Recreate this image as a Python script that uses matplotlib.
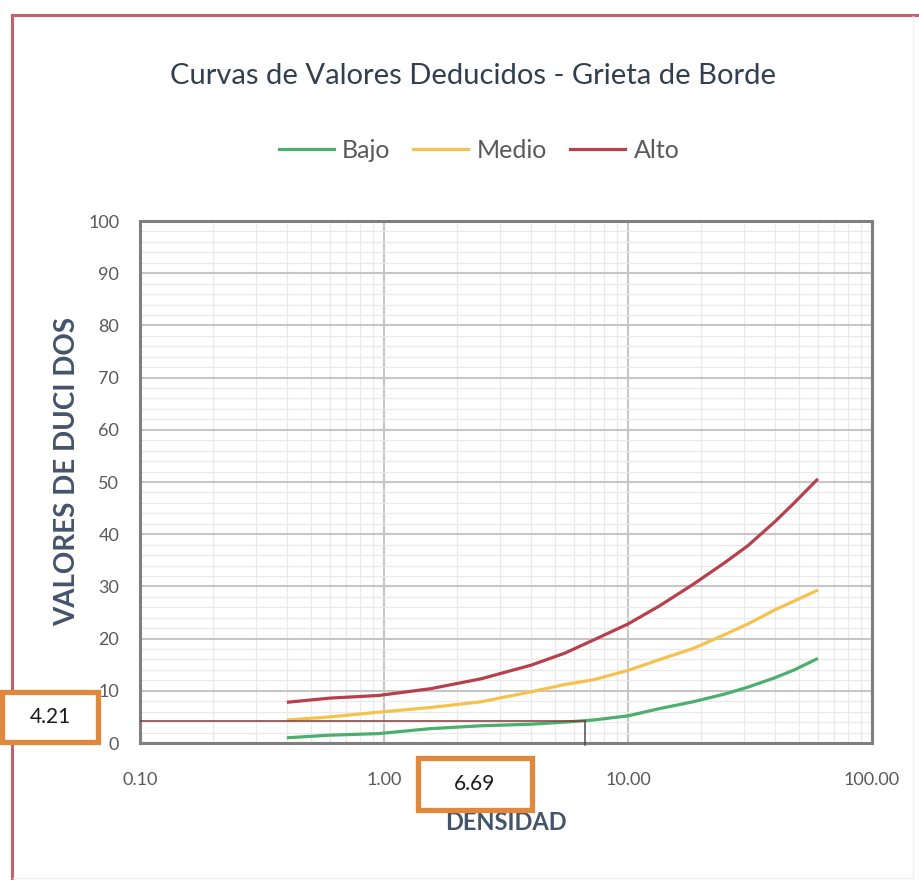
import matplotlib
matplotlib.use("Agg")
import matplotlib.pyplot as plt
from matplotlib.patches import Rectangle
from matplotlib.lines import Line2D
from matplotlib.ticker import FixedLocator, NullFormatter, MultipleLocator

plt.rcParams['font.family'] = ['Lato', 'DejaVu Sans']

# Curvas de valores deducidos (densidad en %, escala logaritmica)
densidad = [0.4, 0.6, 0.95, 1.55, 2.5, 4, 5.5, 7.2, 10, 13.5, 18.5, 25, 31, 40, 48, 60]
bajo = [1.0, 1.5, 1.8, 2.75, 3.3, 3.6, 4.0, 4.4, 5.2, 6.6, 7.9, 9.4, 10.7, 12.5, 14.0, 16.2]
medio = [4.4, 5.0, 5.9, 6.8, 7.9, 9.8, 11.2, 12.1, 13.9, 16.0, 18.1, 20.8, 22.8, 25.5, 27.2, 29.3]
alto = [7.8, 8.6, 9.1, 10.4, 12.3, 14.9, 17.2, 19.7, 22.8, 26.3, 30.4, 34.6, 37.8, 42.4, 46.0, 50.6]

series = ['Bajo', 'Medio', 'Alto']
colores = ['#4caf6e', '#f6c24e', '#b8404c']

# Lectura en la curva
densidad_leida = 6.69
valor_leido = 4.21

x_ticks = [0.1, 1, 10, 100]
x_labels = ['0.10', '1.00', '10.00', '100.00']
y_ticks = list(range(0, 101, 10))

W, H = 920, 880
fig = plt.figure(figsize=(W / 100, H / 100), dpi=100)
fig.patch.set_facecolor('white')


def fx(px):
    return px / W


def fy(py):
    return 1 - py / H


ax = fig.add_axes([fx(140), fy(743), fx(872) - fx(140), fy(221) - fy(743)])

for nombre, valores, color in zip(series, [bajo, medio, alto], colores):
    ax.plot(densidad, valores, color=color, lw=2.3, label=nombre,
            solid_capstyle='butt', solid_joinstyle='round', zorder=3)

ax.set_xscale('log')
ax.set_xlim(0.1, 100)
ax.set_ylim(0, 100)
ax.set_xticks(x_ticks)
ax.set_xticklabels(x_labels)
ax.xaxis.set_minor_locator(FixedLocator(
    [m * d for d in [0.1, 1, 10] for m in range(2, 10)]))
ax.xaxis.set_minor_formatter(NullFormatter())
ax.set_yticks(y_ticks)
ax.yaxis.set_minor_locator(MultipleLocator(2))

ax.grid(which='major', color='#c6c6c6', lw=1.5, zorder=0)
ax.grid(which='minor', color='#e9e9e9', lw=0.9, zorder=0)
ax.set_axisbelow(True)

ax.tick_params(which='both', length=0)
ax.tick_params(axis='y', pad=15, labelsize=13, labelcolor='#595959')
ax.tick_params(axis='x', pad=21, labelsize=13, labelcolor='#595959')

for sp in ax.spines.values():
    sp.set_color('#7f7f7f')
    sp.set_linewidth(2.2)

# Lineas de lectura
ax.plot([0.1, densidad_leida], [valor_leido, valor_leido], color='#7a3b3b',
        lw=1.1, zorder=4)
ax.plot([densidad_leida, densidad_leida], [-0.4, valor_leido], color='#4d4d4d',
        lw=1.1, zorder=4, clip_on=False)

# Titulo, leyenda y ejes
fig.text(fx(473), fy(76), 'Curvas de Valores Deducidos - Grieta de Borde',
         ha='center', va='center', fontsize=21, color='#333f4f')

handles = [Line2D([], [], color=c, lw=2.3) for c in colores]
fig.legend(handles, series, loc='center', bbox_to_anchor=(fx(479), fy(150)),
           ncol=3, frameon=False, fontsize=18, labelcolor='#595959',
           handlelength=2.2, handletextpad=0.35, columnspacing=0.9)

fig.text(fx(67), fy(472), 'VALORES DE DUCI DOS', rotation=90, ha='center',
         va='center', fontsize=20, fontweight='bold', color='#44546a')
fig.text(fx(506), fy(822), 'DENSIDAD', ha='center', va='center',
         fontsize=17, fontweight='bold', color='#44546a')

# Cuadros con los valores leidos
for (x0, y0, x1, y1), texto in [((2, 692, 98, 742), f'{valor_leido:.2f}'),
                                 ((418, 758, 532, 810), f'{densidad_leida:.2f}')]:
    fig.add_artist(Rectangle((fx(x0), fy(y1)), fx(x1) - fx(x0), fy(y0) - fy(y1),
                             transform=fig.transFigure, facecolor='white',
                             edgecolor='#e0893c', lw=3.8, zorder=5))
    fig.text(fx((x0 + x1) / 2), fy((y0 + y1) / 2), texto, ha='center',
             va='center', fontsize=15, color='#1a1a1a', zorder=6)

# Marco
fig.add_artist(Line2D([fx(12), fx(920)], [fy(15), fy(15)],
                      transform=fig.transFigure, color='#c4606a', lw=2.2))
fig.add_artist(Line2D([fx(12), fx(12)], [fy(15), fy(880)],
                      transform=fig.transFigure, color='#c4606a', lw=2.2))
fig.add_artist(Line2D([fx(913), fx(913)], [fy(16), fy(878)],
                      transform=fig.transFigure, color='#f0f0f0', lw=1))
fig.add_artist(Line2D([fx(13), fx(913)], [fy(878), fy(878)],
                      transform=fig.transFigure, color='#f0f0f0', lw=1))

fig.savefig('out.png', dpi=100, facecolor='white')
